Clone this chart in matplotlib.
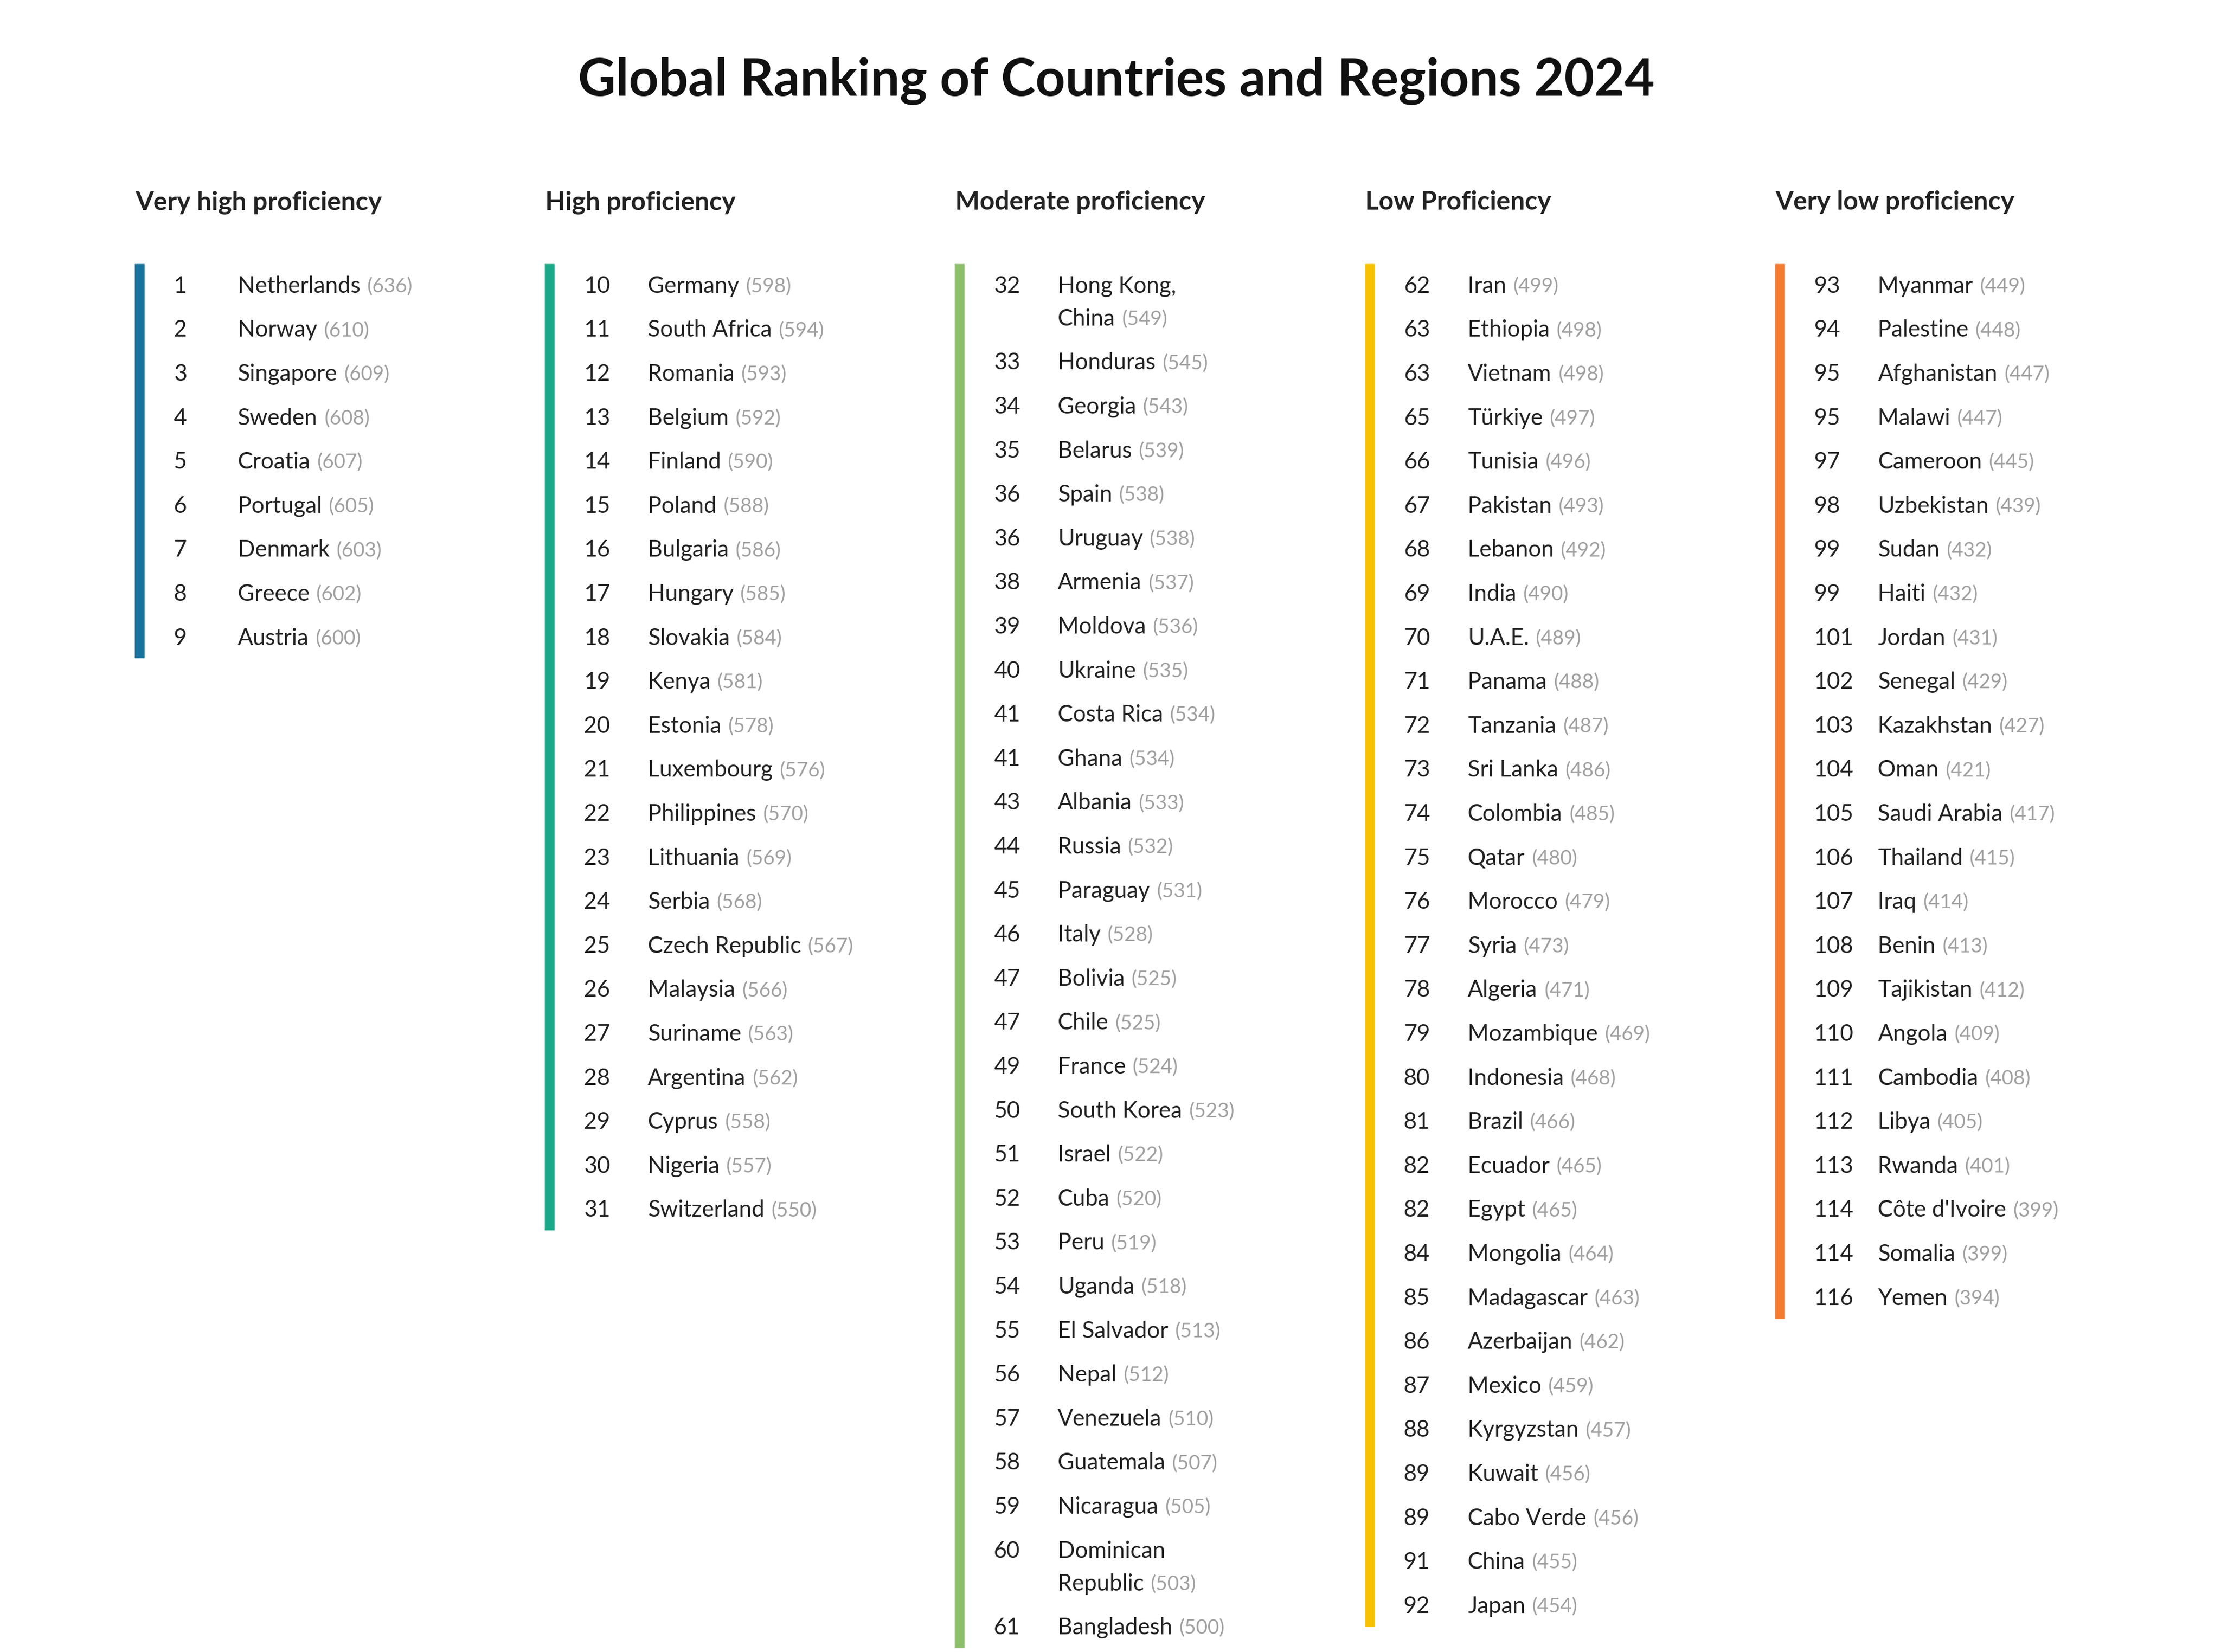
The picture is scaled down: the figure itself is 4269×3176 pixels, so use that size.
import matplotlib.pyplot as plt

title = "Global Ranking of Countries and Regions 2024"
groups = ["Very high proficiency", "High proficiency", "Moderate proficiency",
          "Low Proficiency", "Very low proficiency"]
colors = ["#17729c", "#1aa988", "#8cbf6a", "#f6c200", "#f47b32"]

ranks_1 = [1, 2, 3, 4, 5, 6, 7, 8, 9]
names_1 = ["Netherlands", "Norway", "Singapore", "Sweden", "Croatia", "Portugal",
           "Denmark", "Greece", "Austria"]
scores_1 = [636, 610, 609, 608, 607, 605, 603, 602, 600]

ranks_2 = list(range(10, 32))
names_2 = ["Germany", "South Africa", "Romania", "Belgium", "Finland", "Poland",
           "Bulgaria", "Hungary", "Slovakia", "Kenya", "Estonia", "Luxembourg",
           "Philippines", "Lithuania", "Serbia", "Czech Republic", "Malaysia",
           "Suriname", "Argentina", "Cyprus", "Nigeria", "Switzerland"]
scores_2 = [598, 594, 593, 592, 590, 588, 586, 585, 584, 581, 578, 576, 570, 569,
            568, 567, 566, 563, 562, 558, 557, 550]

ranks_3 = [32, 33, 34, 35, 36, 36, 38, 39, 40, 41, 41, 43, 44, 45, 46, 47, 47, 49,
           50, 51, 52, 53, 54, 55, 56, 57, 58, 59, 60, 61]
names_3 = ["Hong Kong,\nChina", "Honduras", "Georgia", "Belarus", "Spain", "Uruguay",
           "Armenia", "Moldova", "Ukraine", "Costa Rica", "Ghana", "Albania", "Russia",
           "Paraguay", "Italy", "Bolivia", "Chile", "France", "South Korea", "Israel",
           "Cuba", "Peru", "Uganda", "El Salvador", "Nepal", "Venezuela", "Guatemala",
           "Nicaragua", "Dominican\nRepublic", "Bangladesh"]
scores_3 = [549, 545, 543, 539, 538, 538, 537, 536, 535, 534, 534, 533, 532, 531,
            528, 525, 525, 524, 523, 522, 520, 519, 518, 513, 512, 510, 507, 505,
            503, 500]

ranks_4 = [62, 63, 63, 65, 66, 67, 68, 69, 70, 71, 72, 73, 74, 75, 76, 77, 78, 79,
           80, 81, 82, 82, 84, 85, 86, 87, 88, 89, 89, 91, 92]
names_4 = ["Iran", "Ethiopia", "Vietnam", "Türkiye", "Tunisia", "Pakistan", "Lebanon",
           "India", "U.A.E.", "Panama", "Tanzania", "Sri Lanka", "Colombia", "Qatar",
           "Morocco", "Syria", "Algeria", "Mozambique", "Indonesia", "Brazil",
           "Ecuador", "Egypt", "Mongolia", "Madagascar", "Azerbaijan", "Mexico",
           "Kyrgyzstan", "Kuwait", "Cabo Verde", "China", "Japan"]
scores_4 = [499, 498, 498, 497, 496, 493, 492, 490, 489, 488, 487, 486, 485, 480,
            479, 473, 471, 469, 468, 466, 465, 465, 464, 463, 462, 459, 457, 456,
            456, 455, 454]

ranks_5 = [93, 94, 95, 95, 97, 98, 99, 99, 101, 102, 103, 104, 105, 106, 107, 108,
           109, 110, 111, 112, 113, 114, 114, 116]
names_5 = ["Myanmar", "Palestine", "Afghanistan", "Malawi", "Cameroon", "Uzbekistan",
           "Sudan", "Haiti", "Jordan", "Senegal", "Kazakhstan", "Oman", "Saudi Arabia",
           "Thailand", "Iraq", "Benin", "Tajikistan", "Angola", "Cambodia", "Libya",
           "Rwanda", "Côte d'Ivoire", "Somalia", "Yemen"]
scores_5 = [449, 448, 447, 447, 445, 439, 432, 432, 431, 429, 427, 421, 417, 415,
            414, 413, 412, 409, 408, 405, 401, 399, 399, 394]

columns = [(ranks_1, names_1, scores_1), (ranks_2, names_2, scores_2),
           (ranks_3, names_3, scores_3), (ranks_4, names_4, scores_4),
           (ranks_5, names_5, scores_5)]

plt.rcParams["font.family"] = "Lato"
fig = plt.figure(figsize=(4269 / 300, 3176 / 300), dpi=300)
ax = fig.add_axes([0, 0, 1, 1])
ax.set_xlim(0, 1560)
ax.set_ylim(1160, 0)
ax.axis("off")

ax.text(784, 57, title, ha="center", va="center", fontsize=24, fontweight="bold",
        color="#111111")

col_x = [95, 383, 671, 959, 1247]
row_h, line_h = 30.9, 23
fs = 10.5
for cx, grp, col, (ranks, names, scores) in zip(col_x, groups, colors, columns):
    ax.text(cx, 142, grp, ha="left", va="center", fontsize=12, fontweight="bold",
            color="#222222")
    y = 201
    for r, n, s in zip(ranks, names, scores):
        ax.text(cx + 27, y, str(r), ha="left", va="center", fontsize=fs, color="#222222")
        lines = n.split("\n")
        for i, ln in enumerate(lines):
            t = ax.text(cx + 72, y + i * line_h, ln, ha="left", va="center",
                        fontsize=fs, color="#222222")
        ax.annotate(f"({s})", xy=(1, 0.5), xycoords=t, xytext=(3, 0),
                    textcoords="offset points", ha="left", va="center",
                    fontsize=fs * 0.88, color="#a0a0a0")
        last_y = y + (len(lines) - 1) * line_h
        y = last_y + row_h
    ax.plot([cx + 3, cx + 3], [185, last_y + 14], color=col, lw=4.5,
            solid_capstyle="butt")

fig.savefig("out.png", dpi=300, facecolor="white")
